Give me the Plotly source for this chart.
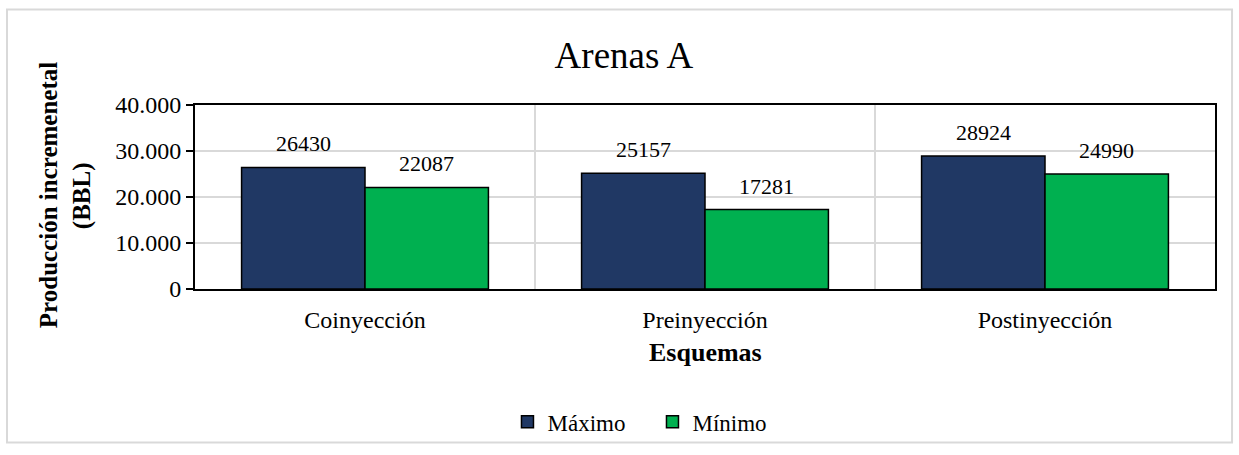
import plotly.graph_objects as go

# Incremental production per injection scheme (BBL)
categories = ["Coinyección", "Preinyección", "Postinyección"]
maximo = [26430, 25157, 28924]
minimo = [22087, 17281, 24990]
y_ticks = [0, 10000, 20000, 30000, 40000]

FONT = "Liberation Serif, Times New Roman, serif"
NAVY = "#203864"
GREEN = "#00B050"

fig = go.Figure()
series = [("Máximo", maximo, NAVY), ("Mínimo", minimo, GREEN)]
for name, vals, color in series:
    fig.add_trace(go.Bar(
        name=name, x=categories, y=vals,
        marker=dict(color=color, line=dict(color="black", width=1.5)),
    ))

# Value labels above each bar (bars in a group sit half a bar-width left/right of the category centre)
half_bar = 61.75
for (name, vals, color), shift in zip(series, (-half_bar, half_bar)):
    for cat, v in zip(categories, vals):
        fig.add_annotation(
            x=cat, y=v, xref="x", yref="y", text=f"{v}",
            showarrow=False, xshift=shift, yshift=9, yanchor="bottom",
            font=dict(family=FONT, size=22, color="black"),
        )

# Y-axis title, two rotated lines
for text, xp in (("<b>Producción incremenetal</b>", -0.1441), ("<b>(BBL)</b>", -0.1108)):
    fig.add_annotation(
        x=xp, y=0.51, xref="paper", yref="paper", text=text, textangle=-90,
        showarrow=False, xanchor="center", yanchor="middle",
        font=dict(family=FONT, size=25, color="black"),
    )
# X-axis title
fig.add_annotation(
    x=0.5, y=-0.345, xref="paper", yref="paper",
    text="<b>Esquemas</b>", showarrow=False,
    xanchor="center", yanchor="middle",
    font=dict(family=FONT, size=26, color="black"),
)

# Light outer frame around the whole chart
fig.add_shape(
    type="rect", xref="paper", yref="paper",
    x0=-0.1843, x1=1.0167, y0=-0.834, y1=1.5187,
    line=dict(color="#D9D9D9", width=2), fillcolor="rgba(0,0,0,0)", layer="below",
)

fig.update_layout(
    width=1239, height=455,
    margin=dict(l=195, r=24, t=105, b=163),
    paper_bgcolor="white", plot_bgcolor="white",
    separators=",.",
    barmode="group", bargap=0.274, bargroupgap=0,
    font=dict(family=FONT, size=24, color="black"),
    title=dict(
        text="Arenas A", x=0.5036, xanchor="center", y=0.879, yanchor="middle",
        font=dict(family=FONT, size=37, color="black"),
    ),
    legend=dict(
        orientation="h", x=0.4485, xanchor="center", y=-0.722, yanchor="middle",
        font=dict(family=FONT, size=23, color="black"),
        bgcolor="rgba(0,0,0,0)",
        entrywidth=100, entrywidthmode="pixels",
        itemclick=False, itemdoubleclick=False,
    ),
    xaxis=dict(
        tickson="boundaries", showgrid=True, gridcolor="#D9D9D9", gridwidth=2,
        showline=True, linecolor="black", linewidth=2, mirror=True,
        ticks="", ticklabelstandoff=8,
        tickfont=dict(family=FONT, size=24, color="black"),
    ),
    yaxis=dict(
        range=[0, 40000], tickvals=y_ticks, tickformat=",.0f",
        showgrid=True, gridcolor="#D9D9D9", gridwidth=2, zeroline=False,
        showline=True, linecolor="black", linewidth=2, mirror=True,
        ticks="outside", ticklen=7, tickwidth=2, tickcolor="black",
        tickfont=dict(family=FONT, size=24, color="black"),
    ),
)

fig.write_html("out.html")
